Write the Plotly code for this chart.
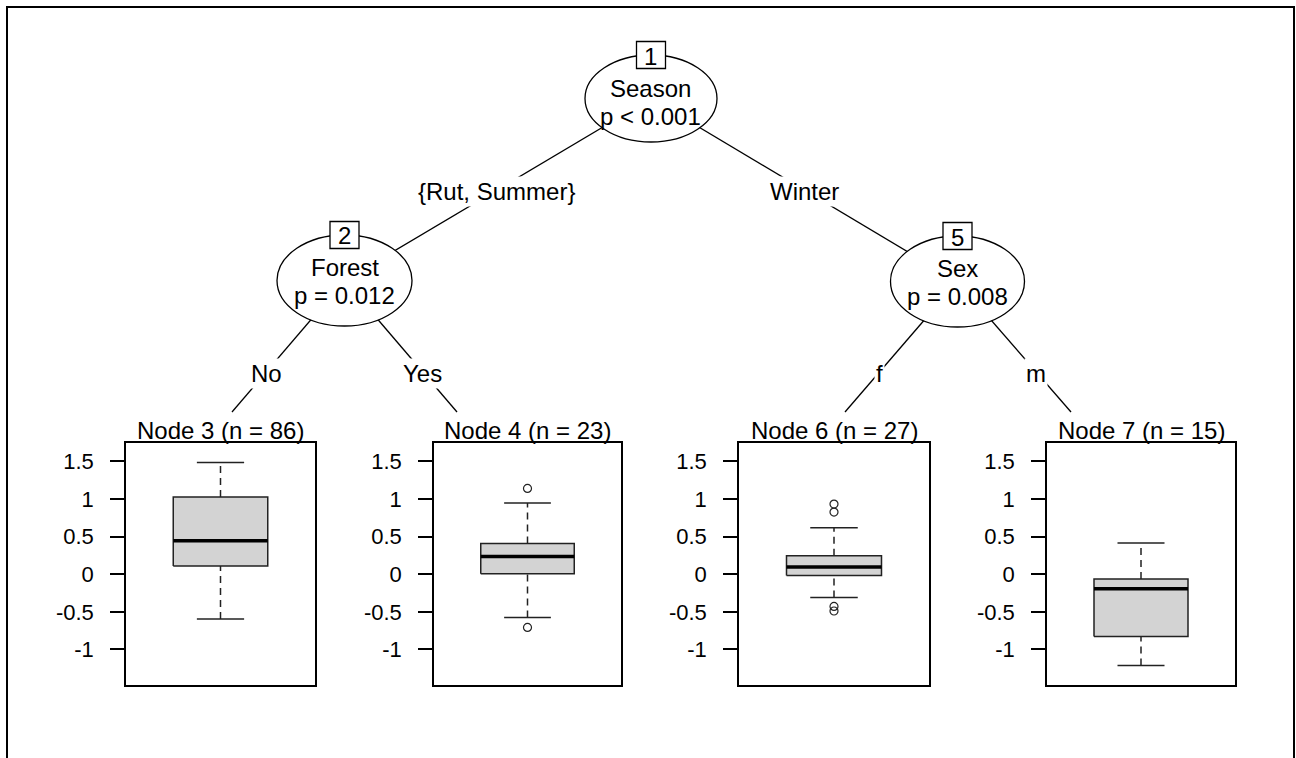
import plotly.graph_objects as go

W, H = 1296, 758

# ---------------- data ----------------
leaf_ids = [3, 4, 6, 7]
leaf_n = [86, 23, 27, 15]
box_lo = [-0.596, -0.574, -0.309, -1.213]
box_q1 = [0.109, 0.005, -0.016, -0.827]
box_med = [0.445, 0.237, 0.096, -0.193]
box_q3 = [1.027, 0.410, 0.246, -0.064]
box_hi = [1.487, 0.947, 0.618, 0.415]
box_out = [[], [1.141, -0.707], [0.933, 0.827, -0.428, -0.489], []]

tick_vals = [-1, -0.5, 0, 0.5, 1, 1.5]
tick_text = ["-1", "-0.5", "0", "0.5", "1", "1.5"]

inner_ids = [1, 2, 5]
inner_var = ["Season", "Forest", "Sex"]
inner_p = ["p < 0.001", "p = 0.012", "p = 0.008"]
edge_labels = ["{Rut, Summer}", "Winter", "No", "Yes", "f", "m"]

# ---------------- layout geometry (pixels) ----------------
def px(x):
    return x / W

def py(y):
    return 1 - y / H

FONT = "Liberation Sans, Arial, sans-serif"
FS = 24

panels = [(126, 315), (434, 621), (739, 929), (1047, 1235)]
p_top, p_bot = 443, 685
y_range = [-1.473, 1.745]

# inner node ellipses: cx, cy, rx, ry, text offset
ell = [(651, 98.5, 66, 43.5, 3), (344.5, 280.5, 67.5, 45.5, 0), (957.5, 281.5, 67, 45.5, 0)]
# edges: (start point, end point, label y)
edges = [
    ((651, 98.5), (344.5, 280.5), 190),
    ((651, 98.5), (957.5, 281.5), 190),
    ((344.5, 280.5), (232, 412), 372),
    ((344.5, 280.5), (457, 412), 372),
    ((957.5, 281.5), (845, 412), 372),
    ((957.5, 281.5), (1071, 412), 372),
]

fig = go.Figure()
shapes = []
annotations = []

# outer frame
shapes.append(dict(type="rect", xref="paper", yref="paper", x0=px(7), x1=px(1294),
                   y0=py(800), y1=py(7), line=dict(color="black", width=2), layer="below"))

# edges
for (s, e, ly), lab in zip(edges, edge_labels):
    shapes.append(dict(type="line", xref="paper", yref="paper", x0=px(s[0]), y0=py(s[1]),
                       x1=px(e[0]), y1=py(e[1]), line=dict(color="black", width=1.3)))
    t = (ly - s[1]) / (e[1] - s[1])
    lx = s[0] + t * (e[0] - s[0])
    annotations.append(dict(x=px(lx), y=py(ly + 1), xref="paper", yref="paper", text=lab,
                            showarrow=False, bgcolor="white", borderpad=1,
                            font=dict(family=FONT, size=FS, color="black"),
                            xanchor="center", yanchor="middle"))

# inner nodes
for (cx, cy, rx, ry, off), nid, var, pv in zip(ell, inner_ids, inner_var, inner_p):
    shapes.append(dict(type="circle", xref="paper", yref="paper", x0=px(cx - rx), x1=px(cx + rx),
                       y0=py(cy + ry), y1=py(cy - ry), fillcolor="white",
                       line=dict(color="black", width=1.3)))
    by = cy - ry
    shapes.append(dict(type="rect", xref="paper", yref="paper", x0=px(cx - 14.5), x1=px(cx + 14.5),
                       y0=py(by + 13.5), y1=py(by - 13.5), fillcolor="white",
                       line=dict(color="black", width=1.3)))
    annotations.append(dict(x=px(cx), y=py(by + 1), xref="paper", yref="paper", text=str(nid),
                            showarrow=False, font=dict(family=FONT, size=FS, color="black"),
                            xanchor="center", yanchor="middle"))
    annotations.append(dict(x=px(cx), y=py(cy - 13 + off), xref="paper", yref="paper", text=var,
                            showarrow=False, font=dict(family=FONT, size=FS, color="black"),
                            xanchor="center", yanchor="middle"))
    annotations.append(dict(x=px(cx), y=py(cy + 15 + off), xref="paper", yref="paper", text=pv,
                            showarrow=False, font=dict(family=FONT, size=FS, color="black"),
                            xanchor="center", yanchor="middle"))

# terminal panels
layout_axes = {}
for i, (l, r) in enumerate(panels):
    k = i + 1
    xa = "x" if k == 1 else f"x{k}"
    ya = "y" if k == 1 else f"y{k}"
    xname = "xaxis" if k == 1 else f"xaxis{k}"
    yname = "yaxis" if k == 1 else f"yaxis{k}"
    layout_axes[xname] = dict(domain=[px(l), px(r)], range=[0, 1], anchor=ya,
                              showline=True, mirror=True, linecolor="black", linewidth=1.5,
                              showticklabels=False, ticks="", showgrid=False, zeroline=False)
    layout_axes[yname] = dict(domain=[py(p_bot), py(p_top)], range=y_range, anchor=xa,
                              showline=True, mirror=True, linecolor="black", linewidth=1.5,
                              ticks="outside", ticklen=14, tickwidth=1.5, tickcolor="black",
                              tickvals=tick_vals, ticktext=tick_text, ticklabelstandoff=12,
                              tickfont=dict(family=FONT, size=22, color="black"),
                              showgrid=False, zeroline=False)
    lo, q1, md, q3, hi = box_lo[i], box_q1[i], box_med[i], box_q3[i], box_hi[i]
    dash = dict(color="#222222", width=1.5, dash="7px,5px")
    solid = dict(color="#222222", width=1.5)
    fig.add_trace(go.Scatter(x=[0.5, 0.5], y=[q3, hi], mode="lines", line=dash, xaxis=xa, yaxis=ya))
    fig.add_trace(go.Scatter(x=[0.5, 0.5], y=[lo, q1], mode="lines", line=dash, xaxis=xa, yaxis=ya))
    fig.add_trace(go.Scatter(x=[0.375, 0.625], y=[hi, hi], mode="lines", line=solid, xaxis=xa, yaxis=ya))
    fig.add_trace(go.Scatter(x=[0.375, 0.625], y=[lo, lo], mode="lines", line=solid, xaxis=xa, yaxis=ya))
    fig.add_trace(go.Scatter(x=[0.25, 0.75, 0.75, 0.25, 0.25], y=[q1, q1, q3, q3, q1], mode="lines",
                             fill="toself", fillcolor="#D3D3D3", line=solid, xaxis=xa, yaxis=ya))
    fig.add_trace(go.Scatter(x=[0.25, 0.75], y=[md, md], mode="lines",
                             line=dict(color="black", width=3.5), xaxis=xa, yaxis=ya))
    if box_out[i]:
        fig.add_trace(go.Scatter(x=[0.5] * len(box_out[i]), y=box_out[i], mode="markers",
                                 marker=dict(symbol="circle-open", size=8, color="#222222",
                                             line=dict(width=1.2)),
                                 xaxis=xa, yaxis=ya))
    annotations.append(dict(x=px((l + r) / 2), y=py(430), xref="paper", yref="paper",
                            text=f"Node {leaf_ids[i]} (n = {leaf_n[i]})", showarrow=False,
                            font=dict(family=FONT, size=FS, color="black"),
                            xanchor="center", yanchor="middle"))

fig.update_layout(width=W, height=H, margin=dict(l=0, r=0, t=0, b=0),
                  paper_bgcolor="white", plot_bgcolor="white", showlegend=False,
                  shapes=shapes, annotations=annotations, **layout_axes)

fig.write_html("out.html")
